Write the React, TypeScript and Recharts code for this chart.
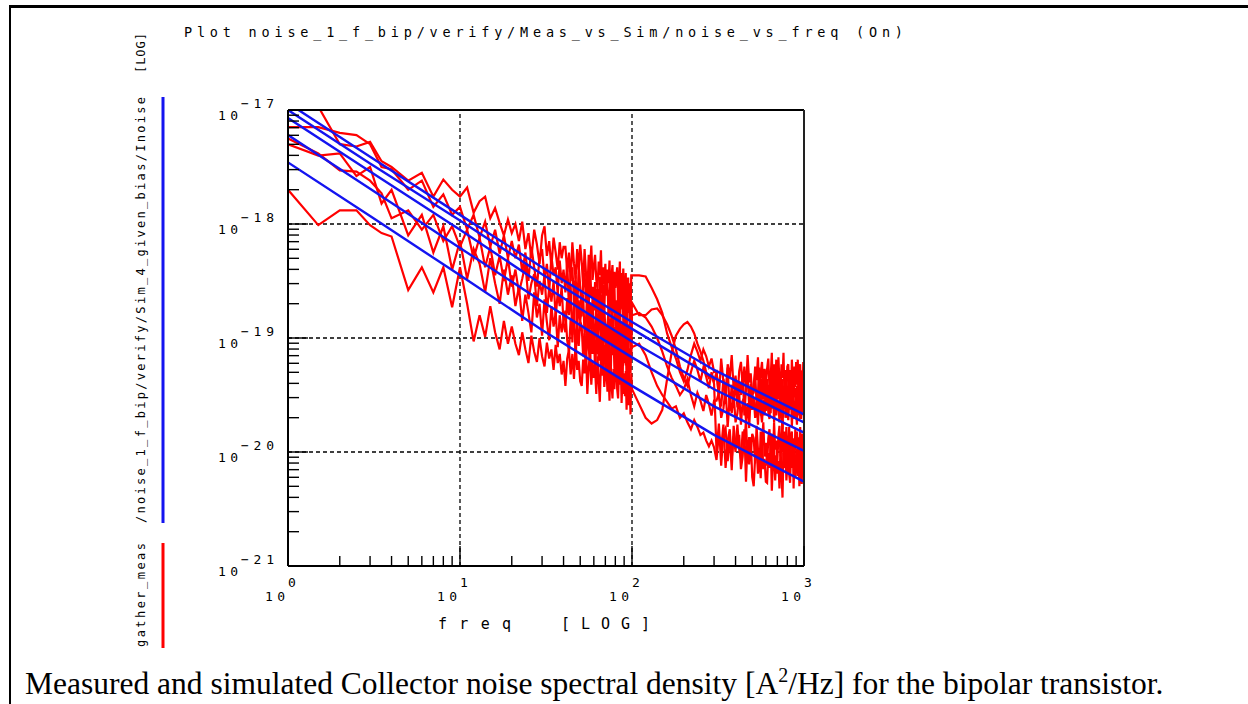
import { LineChart, Line, XAxis, YAxis, ReferenceLine } from 'recharts';

// measured frequencies [Hz]: two analyser bands, 1-100 and 100-1000
const measFreq = [
  1, 1.5, 2, 2.5, 3, 3.5, 4,
  5, 6, 7, 8, 9, 10, 11, 12, 13, 14, 15, 16, 17, 18, 19, 20,
  21, 22, 23, 24, 25, 26, 27, 28, 29, 30,
  31, 32, 33, 34, 35, 36, 37, 38, 39, 40,
  41, 42, 43, 44, 45, 46, 47, 48, 49, 50,
  51, 52, 53, 54, 55, 56, 57, 58, 59, 60,
  61, 62, 63, 64, 65, 66, 67, 68, 69, 70,
  71, 72, 73, 74, 75, 76, 77, 78, 79, 80,
  81, 82, 83, 84, 85, 86, 87, 88, 89, 90,
  91, 92, 93, 94, 95, 96, 97, 98, 99, 100,
  110, 120, 130, 140, 150, 160, 170, 180, 190, 200,
  210, 220, 230, 240, 250, 260, 270, 280, 290, 300,
  310, 320, 330, 340, 350, 360, 370, 380, 390, 400,
  410, 420, 430, 440, 450, 460, 470, 480, 490, 500,
  510, 520, 530, 540, 550, 560, 570, 580, 590, 600,
  610, 620, 630, 640, 650, 660, 670, 680, 690, 700,
  710, 720, 730, 740, 750, 760, 770, 780, 790, 800,
  810, 820, 830, 840, 850, 860, 870, 880, 890, 900,
  910, 920, 930, 940, 950, 960, 970, 980, 990, 1000,
];

// gather_meas, log10 of noise density [A^2/Hz]
const meas1 = [
  -16.8, -16.97, -17.3, -17.32, -17.28, -17.45, -17.5,
  -17.62, -17.55, -17.76, -17.61, -17.7, -17.76, -17.68, -17.9, -17.8, -17.76, -17.95, -17.86, -17.99, -18.1, -17.96, -18.08,
  -18.0, -18.15, -17.98, -18.22, -18.08, -18.3, -18.05, -18.18, -18.35, -18.1,
  -18.02, -18.28, -18.15, -18.38, -18.12, -18.25, -18.4, -18.16, -18.3, -18.2,
  -18.2, -18.42, -18.25, -18.5, -18.16, -18.35, -18.48, -18.22, -18.4, -18.18,
  -18.33, -18.55, -18.22, -18.43, -18.62, -18.27, -18.39, -18.19, -18.49, -18.37,
  -18.27, -18.49, -18.57, -18.33, -18.45, -18.23, -18.61, -18.38, -18.53, -18.35,
  -18.63, -18.4, -18.52, -18.32, -18.7, -18.46, -18.36, -18.62, -18.42, -18.56,
  -18.47, -18.38, -18.65, -18.55, -18.33, -18.75, -18.43, -18.61, -18.39, -18.71,
  -18.65, -18.43, -18.77, -18.51, -18.47, -18.73, -18.53, -18.81, -18.45, -18.45,
  -18.45, -18.46, -18.56, -18.66, -18.78, -18.96, -19.08, -19.18, -19.3, -19.38,
  -19.28, -19.15, -19.05, -19.12, -19.2, -19.1, -19.16, -19.25, -19.18, -19.3,
  -19.29, -19.51, -19.18, -19.39, -19.58, -19.23, -19.35, -19.15, -19.45, -19.33,
  -19.53, -19.29, -19.21, -19.43, -19.25, -19.47, -19.15, -19.39, -19.31, -19.49,
  -19.48, -19.25, -19.37, -19.17, -19.55, -19.31, -19.21, -19.47, -19.27, -19.41,
  -19.27, -19.18, -19.45, -19.35, -19.13, -19.55, -19.23, -19.41, -19.19, -19.51,
  -19.17, -19.39, -19.47, -19.23, -19.35, -19.13, -19.51, -19.28, -19.43, -19.25,
  -19.23, -19.45, -19.28, -19.53, -19.19, -19.38, -19.51, -19.25, -19.43, -19.21,
  -19.41, -19.19, -19.53, -19.27, -19.23, -19.49, -19.29, -19.57, -19.21, -19.37,
];
const meas2 = [
  -17.15, -17.15, -17.2, -17.22, -17.3, -17.5, -17.52,
  -17.7, -17.62, -17.85, -17.74, -17.92, -17.85, -18.05, -17.92, -18.12, -17.98, -18.2, -18.05, -18.26, -18.1, -18.3, -18.15,
  -18.3, -18.18, -18.42, -18.25, -18.5, -18.2, -18.38, -18.55, -18.3, -18.22,
  -18.48, -18.35, -18.6, -18.28, -18.45, -18.38, -18.62, -18.32, -18.52, -18.4,
  -18.6, -18.33, -18.74, -18.43, -18.38, -18.69, -18.45, -18.79, -18.36, -18.55,
  -18.81, -18.52, -18.43, -18.69, -18.47, -18.74, -18.35, -18.64, -18.55, -18.76,
  -18.51, -18.77, -18.57, -18.87, -18.46, -18.69, -18.85, -18.53, -18.75, -18.49,
  -18.61, -18.5, -18.82, -18.7, -18.44, -18.94, -18.56, -18.78, -18.51, -18.9,
  -18.67, -18.94, -18.54, -18.79, -19.02, -18.6, -18.74, -18.5, -18.86, -18.72,
  -18.57, -18.83, -18.93, -18.64, -18.78, -18.52, -18.98, -18.7, -18.88, -18.69,
  -18.8, -18.8, -18.75, -18.74, -18.8, -18.88, -18.98, -19.1, -19.25, -19.35,
  -19.42, -19.3, -19.2, -19.28, -19.38, -19.26, -19.34, -19.44, -19.3, -19.38,
  -19.3, -19.52, -19.6, -19.36, -19.48, -19.26, -19.64, -19.41, -19.56, -19.38,
  -19.61, -19.38, -19.5, -19.3, -19.68, -19.44, -19.34, -19.6, -19.4, -19.54,
  -19.4, -19.31, -19.58, -19.48, -19.26, -19.68, -19.36, -19.54, -19.32, -19.64,
  -19.36, -19.58, -19.41, -19.66, -19.32, -19.51, -19.64, -19.38, -19.56, -19.34,
  -19.54, -19.32, -19.66, -19.4, -19.36, -19.62, -19.42, -19.7, -19.34, -19.5,
  -19.66, -19.42, -19.34, -19.56, -19.38, -19.6, -19.28, -19.52, -19.44, -19.62,
  -19.42, -19.64, -19.31, -19.52, -19.71, -19.36, -19.48, -19.28, -19.58, -19.46,
];
const meas3 = [
  -17.25, -17.38, -17.53, -17.54, -17.62, -17.73, -17.95,
  -17.88, -18.05, -17.92, -18.15, -18.02, -18.2, -18.05, -18.3, -18.12, -18.38, -18.2, -18.45, -18.28, -18.5, -18.3, -18.55,
  -18.4, -18.6, -18.48, -18.35, -18.66, -18.52, -18.44, -18.72, -18.5, -18.62,
  -18.45, -18.78, -18.56, -18.68, -18.5, -18.82, -18.6, -18.72, -18.55, -18.88,
  -18.95, -18.65, -18.8, -18.54, -19.04, -18.72, -18.59, -18.93, -18.67, -18.85,
  -18.74, -18.62, -18.98, -18.85, -18.56, -19.11, -18.69, -18.92, -18.64, -19.05,
  -18.98, -18.7, -19.14, -18.8, -18.75, -19.09, -18.83, -19.19, -18.72, -18.93,
  -19.19, -18.88, -18.77, -19.06, -18.83, -19.11, -18.7, -19.01, -18.9, -19.14,
  -18.84, -19.13, -18.9, -19.23, -18.79, -19.04, -19.2, -18.87, -19.1, -18.81,
  -18.96, -19.24, -18.81, -19.09, -19.34, -18.88, -19.04, -18.78, -19.17, -18.8,
  -18.78, -18.82, -18.9, -19.0, -19.12, -19.25, -19.35, -19.42, -19.5, -19.45,
  -19.36, -19.5, -19.6, -19.48, -19.55, -19.64, -19.5, -19.58, -19.68, -19.55,
  -19.55, -19.48, -19.7, -19.62, -19.44, -19.78, -19.52, -19.66, -19.49, -19.74,
  -19.66, -19.49, -19.76, -19.55, -19.52, -19.73, -19.57, -19.79, -19.5, -19.63,
  -19.52, -19.7, -19.56, -19.76, -19.49, -19.64, -19.74, -19.54, -19.68, -19.5,
  -19.47, -19.65, -19.71, -19.52, -19.62, -19.44, -19.74, -19.56, -19.68, -19.54,
  -19.57, -19.74, -19.48, -19.65, -19.8, -19.52, -19.62, -19.46, -19.7, -19.6,
  -19.72, -19.54, -19.63, -19.47, -19.78, -19.58, -19.5, -19.71, -19.55, -19.66,
  -19.76, -19.57, -19.5, -19.68, -19.54, -19.71, -19.46, -19.65, -19.58, -19.73,
];
const meas4 = [
  -17.3, -17.4, -17.38, -17.58, -17.5, -17.82, -17.7,
  -18.1, -17.92, -18.25, -18.02, -18.4, -18.15, -18.48, -18.22, -18.35, -18.6, -18.3, -18.52, -18.7, -18.4, -18.62, -18.45,
  -18.72, -18.55, -18.85, -18.62, -18.78, -18.95, -18.6, -18.82, -18.7, -18.98,
  -18.66, -18.86, -19.02, -18.72, -18.9, -18.78, -19.08, -18.8, -18.95, -18.85,
  -18.76, -19.02, -19.12, -18.83, -18.97, -18.71, -19.17, -18.89, -19.07, -18.85,
  -18.9, -19.16, -18.96, -19.26, -18.85, -19.08, -19.24, -18.92, -19.14, -18.88,
  -19.32, -19.03, -18.94, -19.2, -18.98, -19.25, -18.86, -19.15, -19.06, -19.27,
  -19.08, -19.35, -18.95, -19.2, -19.43, -19.01, -19.15, -18.91, -19.27, -19.13,
  -19.27, -19.0, -19.41, -19.1, -19.05, -19.36, -19.12, -19.46, -19.03, -19.22,
  -19.14, -19.03, -19.35, -19.23, -18.97, -19.47, -19.09, -19.31, -19.04, -19.08,
  -19.05, -19.15, -19.3, -19.42, -19.5, -19.56, -19.62, -19.6, -19.7, -19.66,
  -19.74, -19.8, -19.72, -19.78, -19.85, -19.83, -19.9, -19.95, -19.9, -19.96,
  -20.07, -19.84, -19.96, -19.76, -20.14, -19.9, -19.8, -20.06, -19.86, -20.0,
  -19.76, -19.98, -20.06, -19.82, -19.94, -19.72, -20.1, -19.87, -20.02, -19.84,
  -19.88, -20.1, -19.77, -19.98, -20.17, -19.82, -19.94, -19.74, -20.04, -19.92,
  -20.12, -19.88, -19.8, -20.02, -19.84, -20.06, -19.74, -19.98, -19.9, -20.08,
  -19.86, -19.77, -20.04, -19.94, -19.72, -20.14, -19.82, -20.0, -19.78, -20.1,
  -20.0, -19.78, -20.12, -19.86, -19.82, -20.08, -19.88, -20.16, -19.8, -19.96,
  -19.82, -20.04, -19.87, -20.12, -19.78, -19.97, -20.1, -19.84, -20.02, -19.8,
];
const meas5 = [
  -17.7, -18.01, -17.88, -17.88, -18.01, -18.08, -18.11,
  -18.58, -18.38, -18.6, -18.38, -18.73, -18.38, -18.7, -19.03, -18.8, -18.99, -18.72, -18.95, -19.1, -18.85, -19.05, -18.9,
  -19.05, -19.15, -18.95, -19.1, -19.22, -18.98, -19.12, -19.21, -19.0, -19.16,
  -19.25, -19.04, -19.18, -19.1, -19.28, -19.06, -19.22, -19.14, -19.32, -19.2,
  -19.42, -19.18, -19.1, -19.32, -19.14, -19.36, -19.04, -19.28, -19.2, -19.38,
  -19.42, -19.19, -19.31, -19.11, -19.49, -19.25, -19.15, -19.41, -19.21, -19.35,
  -19.27, -19.49, -19.16, -19.37, -19.56, -19.21, -19.33, -19.13, -19.43, -19.31,
  -19.25, -19.47, -19.3, -19.55, -19.21, -19.4, -19.53, -19.27, -19.45, -19.23,
  -19.23, -19.45, -19.53, -19.29, -19.41, -19.19, -19.57, -19.34, -19.49, -19.31,
  -19.51, -19.29, -19.63, -19.37, -19.33, -19.59, -19.39, -19.67, -19.31, -19.45,
  -19.58, -19.7, -19.75, -19.72, -19.63, -19.36, -19.13, -18.98, -18.92, -18.88,
  -18.86, -18.9, -18.96, -19.05, -19.12, -19.2, -19.3, -19.35, -19.33, -19.4,
  -19.99, -19.75, -20.12, -19.83, -19.79, -20.08, -19.86, -20.16, -19.77, -19.94,
  -19.95, -19.85, -20.15, -20.04, -19.8, -20.26, -19.91, -20.11, -19.87, -20.22,
  -20.3, -20.04, -19.95, -20.19, -19.99, -20.23, -19.88, -20.15, -20.06, -20.26,
  -20.27, -20.01, -20.14, -19.92, -20.34, -20.08, -19.97, -20.25, -20.03, -20.19,
  -20.08, -20.32, -19.95, -20.19, -20.4, -20.01, -20.14, -19.92, -20.25, -20.12,
  -19.94, -20.19, -20.27, -20.01, -20.14, -19.9, -20.32, -20.06, -20.23, -20.03,
  -19.97, -20.21, -20.02, -20.3, -19.93, -20.14, -20.28, -19.99, -20.19, -19.95,
];

// Sim_4_given_bias/Inoise, log10 [A^2/Hz]
const simFreq = [1, 3, 10, 30, 100, 300, 1000];
const sim1 = [-16.94, -17.41, -17.92, -18.38, -18.86, -19.28, -19.67];
const sim2 = [-17.0, -17.47, -17.97, -18.44, -18.92, -19.35, -19.74];
const sim3 = [-17.07, -17.54, -18.05, -18.53, -19.03, -19.45, -19.83];
const sim4 = [-17.22, -17.69, -18.21, -18.68, -19.17, -19.6, -19.99];
const sim5 = [-17.46, -17.93, -18.45, -18.93, -19.42, -19.85, -20.26];

const xDecades = [1, 10, 100, 1000];
const xExponents = ['0', '1', '2', '3'];
const yDecades = [1e-21, 1e-20, 1e-19, 1e-18, 1e-17];
const yExponents = ['−21', '−20', '−19', '−18', '−17'];
const minorSteps = [2, 3, 4, 5, 6, 7, 8, 9];

const measSeries = [meas1, meas2, meas3, meas4, meas5];
const simSeries = [sim1, sim2, sim3, sim4, sim5];

const measTable = measFreq.map((f, i) => {
  const row: any = { f };
  measSeries.forEach((s, k) => (row['m' + k] = 10 ** s[i]));
  return row;
});
const simTable = simFreq.map((f, i) => {
  const row: any = { f };
  simSeries.forEach((s, k) => (row['s' + k] = 10 ** s[i]));
  return row;
});

const withMinor = (decades: number[]) =>
  decades.flatMap((d, i) => (i < decades.length - 1 ? [d, ...minorSteps.map((k) => k * d)] : [d]));
const xTicks = withMinor(xDecades);
const yTicks = withMinor(yDecades);

const MONO = '"DejaVu Sans Mono", monospace';
const RED = '#ff0000';
const BLUE = '#1414f0';

function BottomTick(props: any) {
  const { x, y, payload } = props;
  const i = xDecades.indexOf(payload.value);
  return (
    <g>
      <line x1={x} y1={y} x2={x} y2={y - (i >= 0 ? 20 : 10)} stroke="#000" strokeWidth={1.4} />
      {i >= 0 && (
        <>
          <text x={x - 23} y={601} fontFamily={MONO} fontSize={13} textLength={20} lengthAdjust="spacing" fill="#000">10</text>
          <text x={x} y={587} fontFamily={MONO} fontSize={13} fill="#000">{xExponents[i]}</text>
        </>
      )}
    </g>
  );
}

function TopTick(props: any) {
  const { x, y, payload } = props;
  const major = xDecades.includes(payload.value);
  return <line x1={x} y1={y} x2={x} y2={y + (major ? 18 : 10)} stroke="#000" strokeWidth={1.4} />;
}

function LeftTick(props: any) {
  const { x, y, payload } = props;
  const i = yDecades.indexOf(payload.value);
  return (
    <g>
      <line x1={x} y1={y} x2={x + (i >= 0 ? 20 : 11)} y2={y} stroke="#000" strokeWidth={1.4} />
      {i >= 0 && (
        <>
          <text x={218} y={y + 10} fontFamily={MONO} fontSize={13} textLength={20} lengthAdjust="spacing" fill="#000">10</text>
          <text x={241} y={y - 2} fontFamily={MONO} fontSize={13} textLength={33} lengthAdjust="spacing" fill="#000">{yExponents[i]}</text>
        </>
      )}
    </g>
  );
}

export default function App() {
  return (
    <div style={{ position: 'absolute', left: 0, top: 0, width: 1248, height: 704, background: '#fff', overflow: 'hidden' }}>
      <LineChart width={1248} height={704} margin={{ top: 100, right: 434, bottom: 98, left: 228 }}>
        <XAxis
          xAxisId="bottom"
          dataKey="f"
          type="number"
          scale="log"
          domain={[1, 1000]}
          allowDataOverflow
          ticks={xTicks}
          interval={0}
          height={40}
          tickSize={0}
          tickMargin={0}
          tickLine={false}
          axisLine={{ stroke: '#000', strokeWidth: 2 }}
          tick={<BottomTick />}
        />
        <XAxis
          xAxisId="top"
          orientation="top"
          type="number"
          scale="log"
          domain={[1, 1000]}
          allowDataOverflow
          ticks={xTicks}
          interval={0}
          height={10}
          tickSize={0}
          tickMargin={0}
          tickLine={false}
          axisLine={{ stroke: '#000', strokeWidth: 2 }}
          tick={<TopTick />}
        />
        <YAxis
          yAxisId="left"
          type="number"
          scale="log"
          domain={[1e-21, 1e-17]}
          allowDataOverflow
          ticks={yTicks}
          interval={0}
          width={60}
          tickSize={0}
          tickMargin={0}
          tickLine={false}
          axisLine={{ stroke: '#000', strokeWidth: 2 }}
          tick={<LeftTick />}
        />
        <YAxis
          yAxisId="right"
          orientation="right"
          type="number"
          scale="log"
          domain={[1e-21, 1e-17]}
          allowDataOverflow
          width={10}
          tick={false}
          tickLine={false}
          axisLine={{ stroke: '#222', strokeWidth: 2 }}
        />
        {xDecades.slice(1, 3).map((v) => (
          <ReferenceLine key={'vx' + v} x={v} xAxisId="bottom" yAxisId="left" stroke="#000" strokeWidth={1.3} strokeDasharray="4 3" />
        ))}
        {yDecades.slice(1, 4).map((v) => (
          <ReferenceLine key={'hy' + v} y={v} xAxisId="bottom" yAxisId="left" stroke="#000" strokeWidth={1.3} strokeDasharray="4 3" />
        ))}
        {measSeries.map((_, k) => (
          <Line
            key={'m' + k}
            data={measTable}
            dataKey={'m' + k}
            xAxisId="bottom"
            yAxisId="left"
            type="linear"
            stroke={RED}
            strokeWidth={2.2}
            dot={false}
            isAnimationActive={false}
          />
        ))}
        {simSeries.map((_, k) => (
          <Line
            key={'s' + k}
            data={simTable}
            dataKey={'s' + k}
            xAxisId="bottom"
            yAxisId="left"
            type="linear"
            stroke={BLUE}
            strokeWidth={2.4}
            dot={false}
            isAnimationActive={false}
          />
        ))}
      </LineChart>

      <svg width={1248} height={704} style={{ position: 'absolute', left: 0, top: 0, pointerEvents: 'none' }}>
        <rect x={9} y={5} width={1239} height={3} fill="#000" />
        <rect x={9} y={5} width={2} height={699} fill="#000" />
        <text x={184} y={37} fontFamily={MONO} fontSize={13.5} textLength={719} lengthAdjust="spacing" fill="#000">
          Plot noise_1_f_bip/verify/Meas_vs_Sim/noise_vs_freq (On)
        </text>
        <text transform="translate(145,73) rotate(-90)" fontFamily={MONO} fontSize={12} textLength={40} lengthAdjust="spacing" fill="#000">
          [LOG]
        </text>
        <text transform="translate(145,523) rotate(-90)" fontFamily={MONO} fontSize={12} textLength={426} lengthAdjust="spacing" fill="#000">
          /noise_1_f_bip/verify/Sim_4_given_bias/Inoise
        </text>
        <text transform="translate(145,647) rotate(-90)" fontFamily={MONO} fontSize={12} textLength={104} lengthAdjust="spacing" fill="#000">
          gather_meas
        </text>
        <rect x={161.5} y={97} width={3} height={426} fill={BLUE} />
        <rect x={161.5} y={543} width={3} height={105} fill={RED} />
        <text x={438} y={629} fontFamily={MONO} fontSize={15} textLength={73} lengthAdjust="spacing" fill="#000">freq</text>
        <text x={561} y={629} fontFamily={MONO} fontSize={15} textLength={89} lengthAdjust="spacing" fill="#000">[LOG]</text>
        <text x={25} y={694} fontFamily='"Liberation Serif", "Times New Roman", serif' fontSize={31.5} fill="#000">
          Measured and simulated Collector noise spectral density [A
          <tspan dy={-12} fontSize={20}>2</tspan>
          <tspan dy={12}>/Hz] for the bipolar transistor.</tspan>
        </text>
      </svg>
    </div>
  );
}
